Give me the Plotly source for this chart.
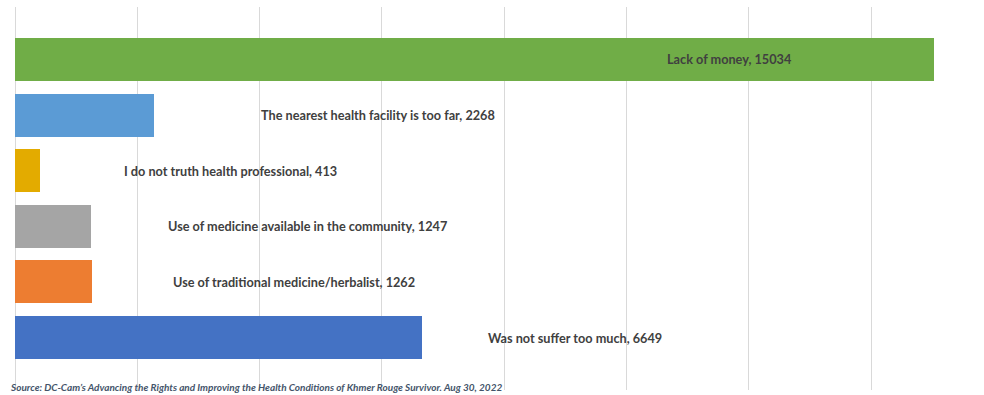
import plotly.graph_objects as go

# Reasons for not seeking treatment, bottom to top
reasons = [
    "Was not suffer too much",
    "Use of traditional medicine/herbalist",
    "Use of medicine available in the community",
    "I do not truth health professional",
    "The nearest health facility is too far",
    "Lack of money",
]
counts = [6649, 1262, 1247, 413, 2268, 15034]
bar_colors = ["#4472C4", "#ED7D31", "#A5A5A5", "#E3AB00", "#5B9BD5", "#70AD47"]

# Horizontal anchor (in axis units) of each data label
label_x = [9166, 4566, 4783, 3524, 5944, 11684]

source_note = ("Source: DC-Cam\u2019s Advancing the Rights and Improving the Health "
               "Conditions of Khmer Rouge Survivor. Aug 30, 2022")

fig = go.Figure()
fig.add_trace(go.Bar(
    x=counts,
    y=reasons,
    orientation="h",
    marker=dict(color=bar_colors, line=dict(width=0)),
    width=0.773,
    hoverinfo="x+y",
))

for name, val, lx in zip(reasons, counts, label_x):
    fig.add_annotation(
        x=lx, y=name, xref="x", yref="y",
        text=f"{name}, {val}",
        showarrow=False,
        xanchor="center", yanchor="middle",
        font=dict(family="Lato", size=12.7, color="#404040", weight="bold"),
    )

# Source note, positioned in pixel terms relative to the plot area
fig.add_annotation(
    xref="paper", yref="paper",
    x=(8 - 15) / 953, y=(395 - 5 - 387) / 383,
    text=f"<i>{source_note}</i>",
    showarrow=False,
    xanchor="left", yanchor="middle",
    font=dict(family="Lato", size=10, color="#44546A", weight="bold"),
)

fig.update_layout(
    width=984, height=395,
    margin=dict(l=15, r=16, t=7, b=5),
    paper_bgcolor="white",
    plot_bgcolor="white",
    showlegend=False,
    bargap=0,
    xaxis=dict(
        range=[0, 15585],
        dtick=2000,
        tick0=0,
        showgrid=True,
        gridcolor="#D9D9D9",
        gridwidth=1,
        zeroline=True,
        zerolinecolor="#D9D9D9",
        zerolinewidth=1,
        showticklabels=False,
        ticks="",
        showline=False,
    ),
    yaxis=dict(
        type="category",
        categoryorder="array",
        categoryarray=reasons,
        range=[-0.944, 5.944],
        showticklabels=False,
        showgrid=False,
        zeroline=False,
        ticks="",
        showline=False,
    ),
)

fig.write_html("out.html")
